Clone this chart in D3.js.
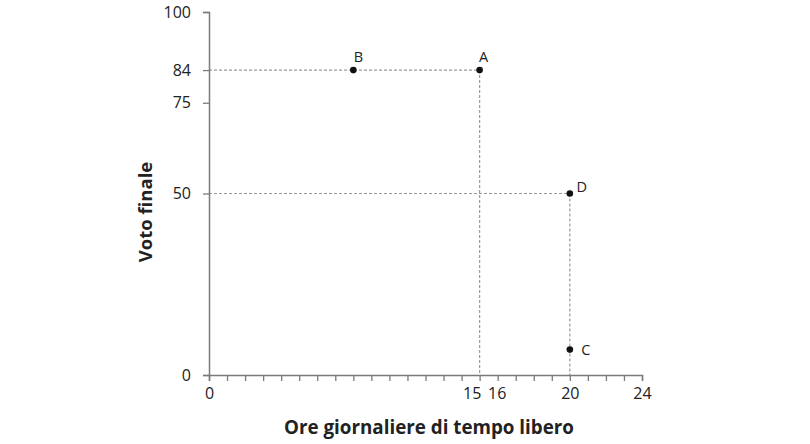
<!DOCTYPE html>
<html>
<head>
<meta charset="utf-8">
<title>Voto finale</title>
<script src="https://cdn.jsdelivr.net/npm/d3@7"></script>
<style>
  body{ margin:0; background:#fff; }
  svg text{ font-family:"Open Sans", sans-serif; fill:#222; }
</style>
</head>
<body>
<svg id="chart" width="810" height="444"></svg>
<script>
// data
var pointLabels = ['A', 'B', 'C', 'D'];
var hours       = [15, 8, 20, 20];
var grades      = [84, 84, 7, 50];
var xTickLabels = [0, 15, 16, 20, 24];
var yTickLabels = [0, 50, 75, 84, 100];
// dashed guides from the axes to the points
var guides = [
  {x1:0,  y1:84, x2:15, y2:84},
  {x1:15, y1:84, x2:15, y2:0},
  {x1:0,  y1:50, x2:20, y2:50},
  {x1:20, y1:50, x2:20, y2:0}
];

var svg = d3.select('#chart');
var x = d3.scaleLinear().domain([0, 24]).range([209, 642]);
var y = d3.scaleLinear().domain([0, 100]).range([375, 12]);
var axisColor = '#7a7a7a';

// guides
svg.selectAll('line.guide').data(guides).enter().append('line')
  .attr('class', 'guide')
  .attr('x1', function(d){ return x(d.x1); })
  .attr('y1', function(d){ return y(d.y1); })
  .attr('x2', function(d){ return x(d.x2); })
  .attr('y2', function(d){ return y(d.y2); })
  .attr('stroke', '#9a9a9a')
  .attr('stroke-width', 1.2)
  .attr('stroke-dasharray', '3,2');

// x axis: minor tick every hour, labels only on some
var xAxis = d3.axisBottom(x)
  .tickValues(d3.range(0, 25))
  .tickSize(6)
  .tickFormat(function(d){ return xTickLabels.indexOf(d) >= 0 ? d : ''; });
var gx = svg.append('g').attr('transform', 'translate(0,' + y(0) + ')').call(xAxis);
gx.select('.domain').attr('stroke', axisColor).attr('stroke-width', 1.5);
gx.selectAll('.tick line').attr('stroke', axisColor).attr('stroke-width', 1.3);
gx.selectAll('.tick text').attr('font-size', 16).attr('dy', '0.95em').attr('fill', '#222')
  .attr('dx', function(d){ return d === 15 ? -8 : d === 16 ? -1 : 0; });

var yAxis = d3.axisLeft(y)
  .tickValues(yTickLabels)
  .tickSize(6)
  .tickPadding(12);
var gy = svg.append('g').attr('transform', 'translate(' + x(0) + ',0)').call(yAxis);
gy.select('.domain').attr('stroke', axisColor).attr('stroke-width', 1.5);
gy.selectAll('.tick line').attr('stroke', axisColor).attr('stroke-width', 1.3);
gy.selectAll('.tick text').attr('font-size', 16).attr('fill', '#222');

// axis titles
svg.append('text')
  .attr('x', 429).attr('y', 434)
  .attr('text-anchor', 'middle')
  .attr('font-size', 18.8).attr('font-weight', 'bold')
  .text('Ore giornaliere di tempo libero');
svg.append('text')
  .attr('transform', 'translate(152,212) rotate(-90)')
  .attr('text-anchor', 'middle')
  .attr('font-size', 18.5).attr('font-weight', 'bold')
  .text('Voto finale');

// points
var pts = pointLabels.map(function(l, i){ return {label:l, x:hours[i], y:grades[i]}; });
svg.selectAll('circle.pt').data(pts).enter().append('circle')
  .attr('class', 'pt')
  .attr('cx', function(d){ return x(d.x); })
  .attr('cy', function(d){ return y(d.y); })
  .attr('r', 3.3)
  .attr('fill', '#111');

var labelOffset = {A:[4,-8], B:[5,-8], C:[16,5], D:[12,-2]};
svg.selectAll('text.pt').data(pts).enter().append('text')
  .attr('class', 'pt')
  .attr('x', function(d){ return x(d.x) + labelOffset[d.label][0]; })
  .attr('y', function(d){ return y(d.y) + labelOffset[d.label][1]; })
  .attr('text-anchor', 'middle')
  .attr('font-size', 14.5)
  .text(function(d){ return d.label; });
</script>
</body>
</html>
